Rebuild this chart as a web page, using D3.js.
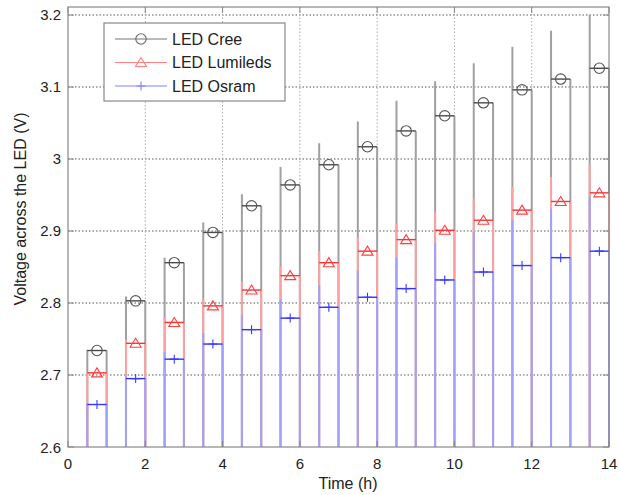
<!DOCTYPE html>
<html><head><meta charset="utf-8">
<script src="https://cdn.jsdelivr.net/npm/d3@7"></script>
<style>body{margin:0;background:#fff}svg{display:block}text{font-family:"Liberation Sans",Arial,sans-serif;fill:#222}</style>
</head><body><svg id="c" width="619" height="495"></svg>
<script>
// Data
const onStart = [0.5,1.5,2.5,3.5,4.5,5.5,6.5,7.5,8.5,9.5,10.5,11.5,12.5,13.5];
const onEnd   = [1,2,3,4,5,6,7,8,9,10,11,12,13,14];
const creeLevel = [2.734,2.803,2.856,2.898,2.935,2.964,2.992,3.017,3.039,3.060,3.078,3.096,3.111,3.126];
const creePeak  = [2.735,2.809,2.863,2.912,2.951,2.989,3.022,3.052,3.081,3.108,3.133,3.156,3.178,3.200];
const lumLevel  = [2.703,2.744,2.773,2.796,2.818,2.838,2.856,2.872,2.888,2.901,2.915,2.929,2.941,2.953];
const lumPeak   = [2.704,2.749,2.779,2.806,2.830,2.851,2.872,2.891,2.910,2.927,2.945,2.961,2.975,2.992];
const osrLevel  = [2.659,2.695,2.722,2.743,2.763,2.779,2.794,2.808,2.820,2.832,2.843,2.852,2.863,2.872];
const osrPeak   = [2.661,2.698,2.732,2.758,2.783,2.805,2.825,2.845,2.863,2.883,2.899,2.915,2.931,2.948];
const xTicks = [0,2,4,6,8,10,12,14];
const yTicks = [2.6,2.7,2.8,2.9,3.0,3.1,3.2];
const seriesNames = ["LED Cree","LED Lumileds","LED Osram"];

const svg = d3.select("#c");
const L=68, R=609, T=7, B=447;
const x = d3.scaleLinear().domain([0,14]).range([L,R]);
const y = d3.scaleLinear().domain([2.6,3.2111]).range([B,T]);

// grid
const g = svg.append("g");
g.selectAll(".hg").data(yTicks.filter(v=>v>2.6)).enter().append("line")
 .attr("x1",L).attr("x2",R).attr("y1",d=>y(d)).attr("y2",d=>y(d))
 .attr("stroke","#555").attr("stroke-width",1).attr("stroke-dasharray","1.5,2");
g.selectAll(".vg").data(xTicks.filter(v=>v>0&&v<14)).enter().append("line")
 .attr("y1",T).attr("y2",B).attr("x1",d=>x(d)).attr("x2",d=>x(d))
 .attr("stroke","#aaa").attr("stroke-width",1).attr("stroke-dasharray","1.5,2");

const series = [
 {name:seriesNames[0], level:creeLevel, peak:creePeak, vc:"#a0a0a0", hc:"#4a4a4a", mc:"#555", lc:"#777", m:"circle"},
 {name:seriesNames[1], level:lumLevel, peak:lumPeak, vc:"#ffa0a0", hc:"#ff3030", mc:"#ff4040", lc:"#ff8080", m:"tri"},
 {name:seriesNames[2], level:osrLevel, peak:osrPeak, vc:"#a0a0ff", hc:"#3030ff", mc:"#3a3aff", lc:"#8080ff", m:"plus"}
];
function marker(sel, type, cx, cy, col){
  if(type==="circle") sel.append("circle").attr("cx",cx).attr("cy",cy).attr("r",5.2).attr("fill","none").attr("stroke",col).attr("stroke-width",1.1);
  else if(type==="tri") sel.append("path").attr("d",`M${cx-5.5},${cy+4}L${cx+5.5},${cy+4}L${cx},${cy-5}Z`).attr("fill","none").attr("stroke",col).attr("stroke-width",1.1);
  else sel.append("path").attr("d",`M${cx-4.5},${cy}L${cx+4.5},${cy}M${cx},${cy-4.5}L${cx},${cy+4.5}`).attr("fill","none").attr("stroke",col).attr("stroke-width",1.1);
}
const base = 2.6;
series.forEach(s=>{
  const sg = svg.append("g");
  const idx = d3.range(onStart.length);
  sg.selectAll(".lv").data(idx).enter().append("line")
    .attr("x1",i=>x(onStart[i])).attr("x2",i=>x(onStart[i]))
    .attr("y1",y(base)).attr("y2",i=>y(s.peak[i]))
    .attr("stroke",s.vc).attr("stroke-width",2);
  sg.selectAll(".rv").data(idx).enter().append("line")
    .attr("x1",i=>x(onEnd[i])).attr("x2",i=>x(onEnd[i]))
    .attr("y1",y(base)).attr("y2",i=>y(s.level[i]))
    .attr("stroke",s.vc).attr("stroke-width",2);
  sg.selectAll(".hl").data(idx).enter().append("line")
    .attr("x1",i=>x(onStart[i])).attr("x2",i=>x(onEnd[i]))
    .attr("y1",i=>y(s.level[i])).attr("y2",i=>y(s.level[i]))
    .attr("stroke",s.hc).attr("stroke-width",1.4);
  idx.forEach(i=>marker(sg, s.m, x((onStart[i]+onEnd[i])/2), y(s.level[i]), s.mc));
});

// box + ticks
svg.append("rect").attr("x",L).attr("y",T).attr("width",R-L).attr("height",B-T)
 .attr("fill","none").attr("stroke","#888").attr("stroke-width",1.2);
const tk = svg.append("g").attr("stroke","#888").attr("stroke-width",1);
xTicks.forEach(v=>{
  tk.append("line").attr("x1",x(v)).attr("x2",x(v)).attr("y1",B).attr("y2",B-6);
  tk.append("line").attr("x1",x(v)).attr("x2",x(v)).attr("y1",T).attr("y2",T+6);
});
yTicks.forEach(v=>{
  tk.append("line").attr("x1",L).attr("x2",L+6).attr("y1",y(v)).attr("y2",y(v));
  tk.append("line").attr("x1",R).attr("x2",R-6).attr("y1",y(v)).attr("y2",y(v));
});
const fmtY = d=> d===3 ? "3" : d3.format(".1f")(d);
svg.selectAll(".xl").data(xTicks).enter().append("text")
 .attr("x",d=>x(d)).attr("y",469).attr("text-anchor","middle").attr("font-size",15).text(d=>d);
svg.selectAll(".yl").data(yTicks).enter().append("text")
 .attr("x",61).attr("y",d=>y(d)+5.5).attr("text-anchor","end").attr("font-size",15).text(fmtY);
svg.append("text").attr("x",348).attr("y",489).attr("text-anchor","middle").attr("font-size",16).text("Time (h)");
svg.append("text").attr("transform","translate(26,209) rotate(-90)").attr("text-anchor","middle").attr("font-size",16).text("Voltage across the LED (V)");

// legend
const lg = svg.append("g");
lg.append("rect").attr("x",104).attr("y",23).attr("width",181).attr("height",78).attr("fill","#fff").attr("stroke","#888").attr("stroke-width",1.2);
series.forEach((s,i)=>{
  const yy = 39 + i*23.5;
  lg.append("line").attr("x1",115).attr("x2",167).attr("y1",yy).attr("y2",yy).attr("stroke",s.lc).attr("stroke-width",1.2);
  marker(lg, s.m, 141, yy, s.lc==="#777"?"#666":s.lc);
  lg.append("text").attr("x",172).attr("y",yy+5.5).attr("font-size",16).text(s.name);
});
</script></body></html>
